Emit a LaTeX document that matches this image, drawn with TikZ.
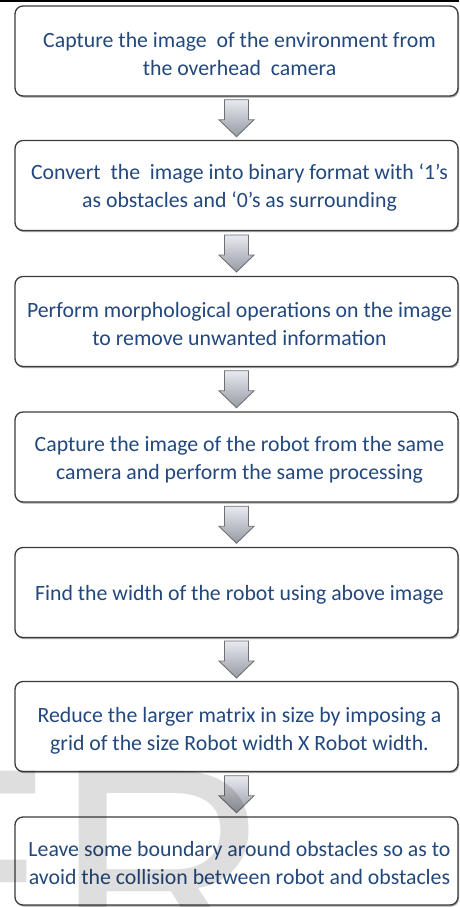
\documentclass[tikz,border=0pt]{standalone}
\usepackage{fontspec}
\setmainfont{Carlito}
\setsansfont{Liberation Sans}
\usetikzlibrary{shadows,calc}
\definecolor{txtblue}{RGB}{35,72,125}
\definecolor{boxline}{RGB}{60,60,60}
\definecolor{arrline}{RGB}{110,112,118}
\definecolor{arrtop}{RGB}{232,234,240}
\definecolor{arrbot}{RGB}{150,154,162}
\tikzset{
  stepbox/.style={draw=boxline, line width=1.3pt, rounded corners=8pt, fill=white,
    minimum width=443pt, minimum height=90pt, inner sep=0pt, outer sep=0pt,
    drop shadow={shadow xshift=1pt, shadow yshift=-1.6pt, opacity=0.35, fill=black}},
  steptext/.style={text=txtblue, align=center, font=\fontsize{21.8}{28}\selectfont, inner sep=0pt},
  blockarrow/.style={draw=arrline, line width=0.9pt, top color=arrtop, bottom color=arrbot, line join=miter},
  watermark/.style={text=black, text opacity=0.13, inner sep=0pt, font=\sffamily\fontsize{300}{300}\selectfont}
}
\newcommand\downarrowblock[2]{%
  \begin{scope}[shift={($(#1.south)!0.5!(#2.north)$)}]
    \path[blockarrow] (-12,18.5) -- (12,18.5) -- (12,-1.5) -- (17.5,-1.5) -- (0,-18.5) -- (-17.5,-1.5) -- (-12,-1.5) -- cycle;
  \end{scope}}
\begin{document}
\begin{tikzpicture}[x=1pt,y=1pt]
\useasboundingbox (0,0) rectangle (459,-907);
\fill[white] (0,0) rectangle (459,-907);
\fill[black] (0,0) rectangle (459,-2);

\node[stepbox] (b1) at (236.5,-51) {};
\node[stepbox] (b2) at (236.5,-185.5) {};
\node[stepbox] (b3) at (236.5,-321.5) {};
\node[stepbox] (b4) at (236.5,-457) {};
\node[stepbox] (b5) at (236.5,-592.5) {};
\node[stepbox] (b6) at (236.5,-726.5) {};
\node[stepbox, minimum height=88pt] (b7) at (236.5,-861) {};

\node[steptext] (t1) at ($(b1.center)+(3,-3)$) {Capture the image\ \ of the environment from\\the overhead\ \ camera};
\node[steptext] (t2) at ($(b2.center)+(3,-2)$) {Convert\ \ the\ \ image into binary format with ‘1’s\\as obstacles and ‘0’s as surrounding};
\node[steptext] (t3) at ($(b3.center)+(3,-3)$) {Perform morphological operations on the image\\to remove unwanted information};
\node[steptext] (t4) at ($(b4.center)+(3,-3)$) {Capture the image of the robot from the same\\camera and perform the same processing};
\node[steptext] (t5) at ($(b5.center)+(3,-2)$) {Find the width of the robot using above image};
\node[steptext] (t6) at ($(b6.center)+(3,-4)$) {Reduce the larger matrix in size by imposing a\\grid of the size Robot width X Robot width.};
\node[steptext] (t7) at ($(b7.center)+(3,-2)$) {Leave some boundary around obstacles so as to\\avoid the collision between robot and obstacles};

\downarrowblock{b1}{b2}
\downarrowblock{b2}{b3}
\downarrowblock{b3}{b4}
\downarrowblock{b4}{b5}
\downarrowblock{b5}{b6}
\downarrowblock{b6}{b7}

\begin{scope}
\clip (0,0) rectangle (459,-907);
\node[watermark, anchor=base west] (wm) at (-146,-977) {ER};
\end{scope}
\end{tikzpicture}
\end{document}
